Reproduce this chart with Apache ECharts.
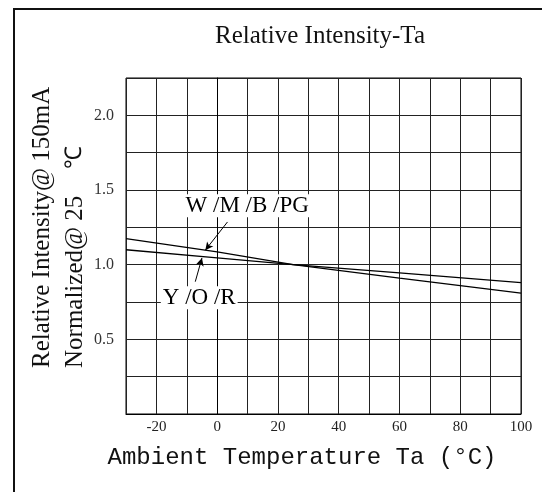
<!DOCTYPE html>
<html>
<head>
<meta charset="utf-8">
<script src="https://cdn.jsdelivr.net/npm/echarts@6/dist/echarts.min.js"></script>
<style>
  html, body { margin: 0; padding: 0; background: #fff; }
  #relIntensityChart { width: 542px; height: 492px; }
</style>
</head>
<body>
<div id="relIntensityChart"></div>
<script>
// ambient temperature (°C) -> relative intensity
var tempW = [-30, 0, 25, 60, 100]
var intensityW = [1.175, 1.085, 1.0, 0.91, 0.81]     // W/M/B/PG
var tempY = [-30, 0, 25, 60, 100]
var intensityY = [1.10, 1.045, 1.0, 0.945, 0.88]    // Y/O/R

var xTickLabels = ['-20', '0', '20', '40', '60', '80', '100']
var yTickLabels = ['0.5', '1.0', '1.5', '2.0']

// annotation text anchors and arrows (data space)
var labelW = [9.9, 1.394]
var arrowW = [[3.4, 1.286], [-3.9, 1.097]]
var labelY = [-5.9, 0.778]
var arrowY = [[-7.2, 0.886], [-5.0, 1.045]]

function pairs (xs, ys) {
  return xs.map(function (x, i) { return [x, ys[i]] })
}

var serif = 'Liberation Serif'
var chart = echarts.init(document.getElementById('relIntensityChart'))

var option = {
  animation: false,
  backgroundColor: '#fff',
  grid: {
    left: 126,
    right: 21,
    top: 78,
    bottom: 78,
    show: true,
    borderColor: '#000',
    borderWidth: 1
  },
  xAxis: {
    type: 'value',
    min: -30,
    max: 100,
    interval: 10,
    axisLine: { show: true, lineStyle: { color: '#000', width: 1 } },
    axisTick: { show: false },
    splitLine: { show: true, lineStyle: { color: '#222', width: 1 } },
    axisLabel: {
      margin: 6,
      color: '#222',
      fontFamily: serif,
      fontSize: 15,
      formatter: function (v) {
        var s = String(v)
        return xTickLabels.indexOf(s) >= 0 ? s : ''
      }
    }
  },
  yAxis: {
    type: 'value',
    min: 0,
    max: 2.25,
    interval: 0.25,
    axisLine: { show: true, lineStyle: { color: '#000', width: 1 } },
    axisTick: { show: false },
    splitLine: { show: true, lineStyle: { color: '#222', width: 1 } },
    axisLabel: {
      margin: 12,
      color: '#333',
      fontFamily: serif,
      fontSize: 16,
      formatter: function (v) {
        var s = v.toFixed(1)
        return (yTickLabels.indexOf(s) >= 0 && Math.abs(v - parseFloat(s)) < 1e-6) ? s : ''
      }
    }
  },
  series: [
    {
      name: 'W/M/B/PG',
      type: 'line',
      data: pairs(tempW, intensityW),
      symbol: 'none',
      lineStyle: { color: '#000', width: 1.3 },
      markLine: {
        silent: true,
        symbol: ['none', 'arrow'],
        symbolSize: [6, 8],
        label: { show: false },
        lineStyle: { color: '#000', width: 1, type: 'solid' },
        data: [[{ coord: arrowW[0] }, { coord: arrowW[1] }]]
      },
      markPoint: {
        silent: true,
        symbol: 'circle',
        symbolSize: 0,
        label: {
          show: true,
          position: 'inside',
          formatter: '{b}',
          color: '#000',
          fontFamily: serif,
          fontSize: 23,
          backgroundColor: '#fff',
          padding: [0, 2]
        },
        data: [{ name: 'W /M /B /PG', coord: labelW }]
      }
    },
    {
      name: 'Y/O/R',
      type: 'line',
      data: pairs(tempY, intensityY),
      symbol: 'none',
      lineStyle: { color: '#000', width: 1.3 },
      markLine: {
        silent: true,
        symbol: ['none', 'arrow'],
        symbolSize: [6, 8],
        label: { show: false },
        lineStyle: { color: '#000', width: 1, type: 'solid' },
        data: [[{ coord: arrowY[0] }, { coord: arrowY[1] }]]
      },
      markPoint: {
        silent: true,
        symbol: 'circle',
        symbolSize: 0,
        label: {
          show: true,
          position: 'inside',
          formatter: '{b}',
          color: '#000',
          fontFamily: serif,
          fontSize: 23,
          backgroundColor: '#fff',
          padding: [0, 2]
        },
        data: [{ name: 'Y /O /R', coord: labelY }]
      }
    }
  ],
  graphic: [
    {
      type: 'rect',
      silent: true,
      shape: { x: 14, y: 9, width: 700, height: 700 },
      style: { fill: 'none', stroke: '#111', lineWidth: 2 }
    },
    {
      type: 'text',
      x: 320,
      y: 36,
      style: {
        text: 'Relative Intensity-Ta',
        fill: '#111',
        font: '25px "Liberation Serif"',
        align: 'center',
        verticalAlign: 'middle'
      }
    },
    {
      type: 'text',
      x: 42,
      y: 368,
      rotation: Math.PI / 2,
      style: {
        text: 'Relative Intensity@ 150mA',
        fill: '#111',
        font: '25px "Liberation Serif"',
        align: 'left',
        verticalAlign: 'middle'
      }
    },
    {
      type: 'text',
      x: 75,
      y: 368,
      rotation: Math.PI / 2,
      style: {
        text: 'Normalized@ 25',
        fill: '#111',
        font: '25px "Liberation Serif"',
        align: 'left',
        verticalAlign: 'middle'
      }
    },
    {
      type: 'text',
      x: 75,
      y: 157,
      rotation: Math.PI / 2,
      style: {
        text: '℃',
        fill: '#111',
        font: '23px "Liberation Serif"',
        align: 'center',
        verticalAlign: 'middle'
      }
    },
    {
      type: 'text',
      x: 302,
      y: 458,
      style: {
        text: 'Ambient Temperature Ta (°C)',
        fill: '#111',
        font: '24px "Liberation Mono"',
        align: 'center',
        verticalAlign: 'middle'
      }
    }
  ]
}

chart.setOption(option)
</script>
</body>
</html>
